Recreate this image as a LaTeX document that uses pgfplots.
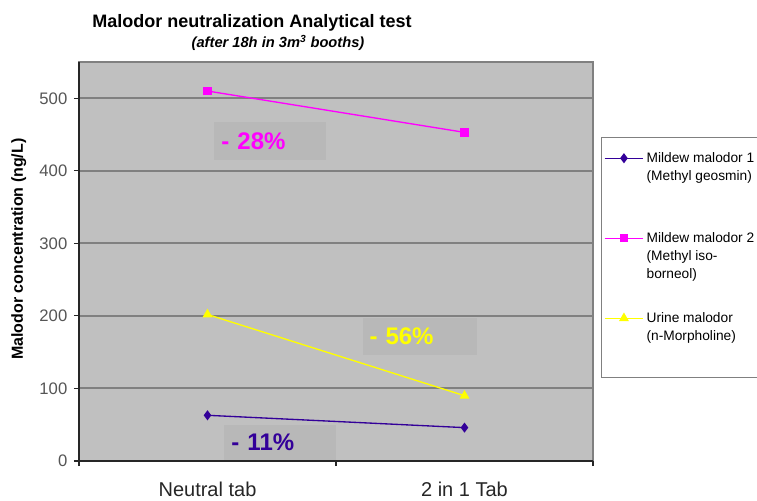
\documentclass[border=0pt]{standalone}
\usepackage{fontspec}
\setmainfont{Liberation Sans}
\usepackage{pgfplots}
\pgfplotsset{compat=1.18}
\definecolor{plotbg}{HTML}{C0C0C0}
\definecolor{gridc}{HTML}{808080}
\definecolor{mblue}{HTML}{330099}
\definecolor{mmag}{HTML}{FF00FF}
\definecolor{myel}{HTML}{FFFF00}
\definecolor{ticklab}{HTML}{555555}
\begin{document}
\begin{tikzpicture}
\useasboundingbox (0,0) rectangle (567.75pt,375pt);
\node[anchor=base, font=\bfseries\fontsize{13.5}{16}\selectfont] at (189pt,354pt) {Malodor neutralization Analytical test};
\node[anchor=base, font=\bfseries\itshape\fontsize{11}{12}\selectfont] at (208.5pt,339pt) {(after 18h in 3m\textsuperscript{3} booths)};
\begin{axis}[
  at={(59.25pt,29.25pt)}, anchor=south west,
  scale only axis, width=385.5pt, height=299.25pt,
  xmin=-0.5, xmax=1.5, ymin=0, ymax=550,
  axis background/.style={fill=plotbg, draw=gridc, line width=1pt},
  axis x line*=bottom, axis y line*=left,
  axis line style={black!85, line width=0.8pt, -},
  xtick={-0.5,0.5,1.5}, xticklabels={,,},
  extra x ticks={0,1},
  extra x tick labels={Neutral tab, 2 in 1 Tab},
  extra x tick style={major tick length=0pt, xticklabel style={font=\fontsize{15}{18}\selectfont, text=black!85, yshift=-12pt}},
  ytick={0,100,200,300,400,500},
  tick align=outside, major tick length=3.75pt,
  tick style={black!85, line width=0.8pt},
  yticklabel style={font=\fontsize{12.5}{14}\selectfont, text=ticklab, xshift=-1.5pt},
  /pgf/number format/assume math mode=true,
  ymajorgrids, grid style={gridc, line width=1.5pt},
  ylabel={Malodor concentration (ng/L)},
  ylabel style={font=\bfseries\fontsize{12}{14}\selectfont, at={(axis description cs:-0.117,0.531)}, anchor=center},
  legend cell align=left,
  legend style={at={(1.0156,0.812)}, anchor=north west, draw=gridc, fill=white,
    font=\fontsize{10.3}{13.5}\selectfont, inner xsep=2pt, inner ysep=12pt, row sep=0pt,
    cells={anchor=base west},
    nodes={text height=7pt, inner ysep=0pt}},
  legend image code/.code={\draw[mark repeat=2,mark phase=2] plot coordinates {(0pt,3.3pt) (14.5pt,3.3pt) (29pt,3.3pt)};},
]
\addplot[mblue, line width=1pt, mark=diamond*, mark size=3pt, mark options={solid, fill=mblue}] coordinates {(0,63) (1,46)};
\addlegendentry[text depth=53pt]{\vtop{\hbox{Mildew malodor 1}\hbox{(Methyl geosmin)}}}
\addplot[mmag, line width=1pt, mark=square*, mark size=2.6pt, mark options={solid, fill=mmag}] coordinates {(0,510) (1,453)};
\addlegendentry[text depth=53pt]{\vtop{\hbox{Mildew malodor 2}\hbox{(Methyl iso-}\hbox{borneol)}}}
\addplot[myel, line width=1pt, mark=triangle*, mark size=3.3pt, mark options={solid, fill=myel}] coordinates {(0,202) (1,90)};
\addlegendentry[text depth=29pt]{\vtop{\hbox{Urine malodor}\hbox{(n-Morpholine)}}}
\node[fill=black, fill opacity=0.04, text opacity=1, minimum height=28.5pt, text width=73.5pt, inner xsep=5.25pt, align=left, text=mmag, font=\bfseries\fontsize{18}{20}\selectfont] at (axis cs:0.245,441) {- 28\%};
\node[fill=black, fill opacity=0.04, text opacity=1, minimum height=28pt, text width=75pt, inner xsep=5.25pt, align=left, text=myel, font=\bfseries\fontsize{18}{20}\selectfont] at (axis cs:0.825,171.5) {- 56\%};
\node[fill=black, fill opacity=0.04, text opacity=1, minimum height=26pt, text width=73.5pt, inner xsep=5.25pt, align=left, text=mblue, font=\bfseries\fontsize{18}{20}\selectfont] at (axis cs:0.284,25.5) {- 11\%};
\end{axis}
\end{tikzpicture}
\end{document}
